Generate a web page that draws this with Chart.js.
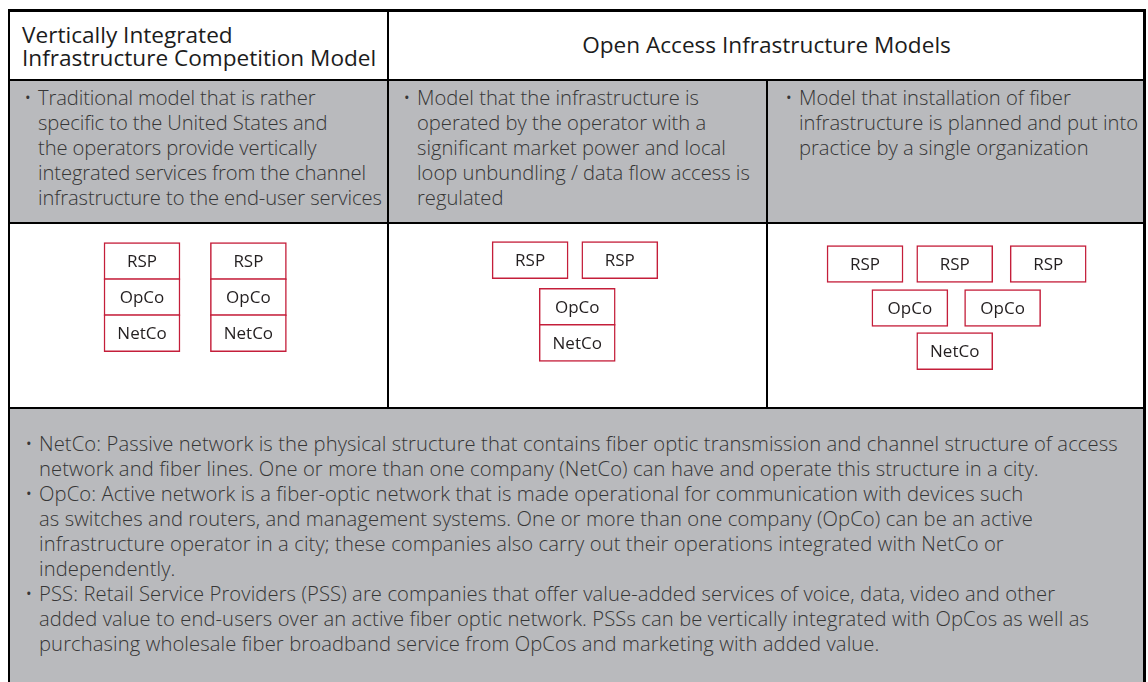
<!DOCTYPE html>
<html>
<head>
<meta charset="utf-8">
<script src="https://cdn.jsdelivr.net/npm/chart.js@4"></script>
<style>
  html, body { margin: 0; padding: 0; background: #fff; }
  #page { position: relative; width: 1148px; height: 682px; overflow: hidden; font-family: "Open Sans", sans-serif; }
  .cell { position: absolute; box-sizing: border-box; }
  .gray { background: #b9babd; }
  .head { color: #1c1c1c; font-size: 22.6px; line-height: 23px; white-space: nowrap; }
  .txt { position: absolute; color: #363636; font-size: 20.2px; font-weight: 300; line-height: 25px; white-space: nowrap; }
  .txt p { position: relative; margin: 0; }
  .txt p::before { content: "\2022"; position: absolute; left: -14px; }
  .ln { position: absolute; background: #000; }
  canvas { position: absolute; }
</style>
</head>
<body>
<div id="page">
  <div class="cell gray" style="left:9px;top:80px;width:1136px;height:143px"></div>
  <div class="cell gray" style="left:9px;top:408px;width:1136px;height:274px"></div>

  <div class="head" style="position:absolute;left:22px;top:23px">Vertically Integrated<br>Infrastructure Competition Model</div>
  <div class="head" style="position:absolute;left:388px;width:757px;top:33px;text-align:center">Open Access Infrastructure Models</div>

  <div class="txt" style="left:38px;top:85px;letter-spacing:-0.1px"><p>Traditional model that is rather<br>specific to the United States and<br>the operators provide vertically<br>integrated services from the channel<br>infrastructure to the end-user services</p></div>
  <div class="txt" style="left:417px;top:85px"><p>Model that the infrastructure is<br>operated by the operator with a<br>significant market power and local<br>loop unbundling / data flow access is<br>regulated</p></div>
  <div class="txt" style="left:799px;top:85px"><p>Model that installation of fiber<br>infrastructure is planned and put into<br>practice by a single organization</p></div>

  <canvas id="c1" width="379" height="185" style="left:9px;top:223px"></canvas>
  <canvas id="c2" width="379" height="185" style="left:388px;top:223px"></canvas>
  <canvas id="c3" width="378" height="185" style="left:767px;top:223px"></canvas>

  <div class="txt" style="left:39px;top:431px;letter-spacing:0.1px">
    <p>NetCo: Passive network is the physical structure that contains fiber optic transmission and channel structure of access<br>network and fiber lines. One or more than one company (NetCo) can have and operate this structure in a city.</p>
    <p>OpCo: Active network is a fiber-optic network that is made operational for communication with devices such<br>as switches and routers, and management systems. One or more than one company (OpCo) can be an active<br>infrastructure operator in a city; these companies also carry out their operations integrated with NetCo or<br>independently.</p>
    <p>PSS: Retail Service Providers (PSS) are companies that offer value-added services of voice, data, video and other<br>added value to end-users over an active fiber optic network. PSSs can be vertically integrated with OpCos as well as<br>purchasing wholesale fiber broadband service from OpCos and marketing with added value.</p>
  </div>

  <!-- grid lines -->
  <div class="ln" style="left:9px;top:9px;width:1137px;height:3px"></div>
  <div class="ln" style="left:9px;top:79px;width:1137px;height:2px"></div>
  <div class="ln" style="left:9px;top:222px;width:1137px;height:2px"></div>
  <div class="ln" style="left:9px;top:407px;width:1137px;height:2px"></div>
  <div class="ln" style="left:8px;top:9px;width:2px;height:673px"></div>
  <div class="ln" style="left:1143px;top:9px;width:3px;height:673px"></div>
  <div class="ln" style="left:387px;top:9px;width:2px;height:400px"></div>
  <div class="ln" style="left:766px;top:80px;width:2px;height:329px"></div>
</div>

<script>
// box diagrams: x start in box widths, row in box heights (from top of cell)
const verticalNames = ["RSP", "OpCo", "NetCo", "RSP", "OpCo", "NetCo"];
const verticalStart = [1.25, 1.25, 1.25, 2.65, 2.65, 2.65];
const verticalRow = [1.06, 2.06, 3.06, 1.06, 2.06, 3.06];

const sharedNames = ["RSP", "RSP", "OpCo", "NetCo"];
const sharedStart = [1.37, 2.55, 1.99, 1.99];
const sharedRow = [1.03, 1.03, 2.33, 3.33];

const singleNames = ["RSP", "RSP", "RSP", "OpCo", "OpCo", "NetCo"];
const singleStart = [0.79, 1.97, 3.2, 1.38, 2.6, 1.97];
const singleRow = [1.14, 1.14, 1.14, 2.36, 2.36, 3.56];

const boxLabels = {
  id: "boxLabels",
  afterDatasetsDraw(chart) {
    const ctx = chart.ctx;
    const ds = chart.data.datasets[0];
    ctx.save();
    ctx.font = '500 17px "Open Sans"';
    ctx.fillStyle = "#231f20";
    ctx.textAlign = "center";
    ctx.textBaseline = "middle";
    chart.getDatasetMeta(0).data.forEach(function (bar, i) {
      const p = bar.getProps(["x", "y", "base"], true);
      ctx.fillText(ds.names[i], (p.x + p.base) / 2, p.y + 1);
    });
    ctx.restore();
  }
};

function drawBoxes(id, names, start, row, width) {
  const ctx = document.getElementById(id).getContext("2d");
  new Chart(ctx, {
    type: "bar",
    data: {
      datasets: [{
        names: names,
        data: start.map(function (s, i) { return { y: row[i], x: [s, s + 1] }; }),
        backgroundColor: "#ffffff",
        borderColor: "#c41e3a",
        borderWidth: 1.5,
        borderSkipped: false,
        barThickness: 37
      }]
    },
    options: {
      indexAxis: "y",
      responsive: false,
      animation: false,
      layout: { padding: 0 },
      scales: {
        x: { type: "linear", min: 0, max: width / 76, offset: false, display: false },
        y: { type: "linear", min: 0, max: 185 / 36, offset: false, reverse: true, display: false }
      },
      plugins: { legend: { display: false }, tooltip: { enabled: false } }
    },
    plugins: [boxLabels]
  });
}

drawBoxes("c1", verticalNames, verticalStart, verticalRow, 379);
drawBoxes("c2", sharedNames, sharedStart, sharedRow, 379);
drawBoxes("c3", singleNames, singleStart, singleRow, 378);
</script>
</body>
</html>
